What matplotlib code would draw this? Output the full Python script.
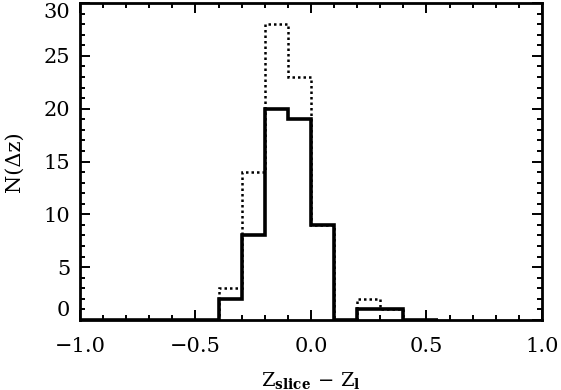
import matplotlib
matplotlib.use('Agg')
import matplotlib.pyplot as plt
import numpy as np
from matplotlib.ticker import MultipleLocator

# bin edges (0.1 wide, plus a short trailing empty bin)
edges = np.append(np.round(np.arange(-1.0, 0.51, 0.1), 2), 0.55)
# counts per bin: solid and dotted histograms
n_solid = [0, 0, 0, 0, 0, 0, 2, 8, 20, 19, 9, 0, 1, 1, 0, 0]
n_dotted = [0, 0, 0, 0, 0, 0, 3, 14, 28, 23, 9, 0, 2, 1, 0, 0]
xticks = [-1.0, -0.5, 0.0, 0.5, 1.0]
xticklabels = ['\u22121.0', '\u22120.5', '0.0', '0.5', '1.0']
yticks = [0, 5, 10, 15, 20, 25, 30]

plt.rcParams['font.family'] = 'DejaVu Serif'
plt.rcParams['mathtext.fontset'] = 'dejavuserif'

fig = plt.figure(figsize=(5.61, 3.90), dpi=100)
ax = fig.add_axes([0.1426, 0.1795, 0.8234, 0.8125])

ax.stairs(n_dotted, edges, color='black', lw=1.8, linestyle=(0, (1, 1.2)), baseline=None)
ax.stairs(n_solid, edges, color='black', lw=2.6, baseline=None)

ax.set_xlim(-1.0, 1.0)
ax.set_ylim(0, 30)
ax.set_xticks(xticks)
ax.set_xticklabels(xticklabels)
ax.set_yticks(yticks)
ax.set_yticklabels([str(v) for v in yticks])
ax.xaxis.set_minor_locator(MultipleLocator(0.1))
ax.yaxis.set_minor_locator(MultipleLocator(1))

ax.tick_params(which='both', direction='in', top=True, right=True, width=1.4)
ax.tick_params(which='major', length=7, labelsize=15)
ax.tick_params(axis='x', which='major', pad=12)
ax.tick_params(axis='y', which='major', pad=7)
ax.tick_params(which='minor', length=3.5)

# keep end labels inside the frame, like the original
ylabs = ax.get_yticklabels()
ylabs[0].set_verticalalignment('bottom')
ylabs[-1].set_verticalalignment('top')

for s in ax.spines.values():
    s.set_linewidth(2.0)

ax.set_xlabel(r'$\mathrm{Z}_{\mathbf{slice}}\,-\,\mathrm{Z}_{\mathbf{l}}$', fontsize=14, labelpad=10)
ax.set_ylabel('N(\u0394z)', fontsize=15, labelpad=14)

fig.savefig('out.png', dpi=100)
